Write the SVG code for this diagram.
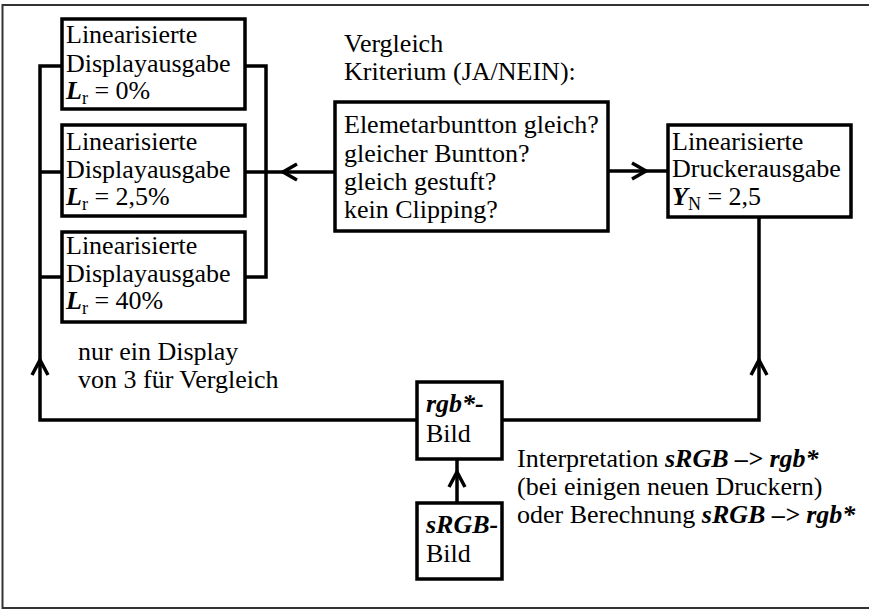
<svg xmlns="http://www.w3.org/2000/svg" width="869" height="610" viewBox="0 0 869 610">
<style>
text{font-family:'Liberation Serif','Times New Roman',Times,'DejaVu Serif',serif;font-size:26px;fill:#000}
.bi{font-weight:bold;font-style:italic}
.box{fill:#fff;stroke:#000;stroke-width:3.5}
.ln{fill:none;stroke:#000;stroke-width:3.5}
.ah{fill:none;stroke:#000;stroke-width:3.5;stroke-linecap:butt;stroke-linejoin:miter}
</style>
<rect x="2.5" y="5" width="880" height="603" fill="#fff" stroke="#333" stroke-width="2"/>
<g id="connectors">
<polyline class="ln" points="62,66 40,66 40,420 417,420"/>
<line class="ln" x1="40" y1="172" x2="62" y2="172"/>
<line class="ln" x1="40" y1="277" x2="62" y2="277"/>
<polyline class="ln" points="245,66 266,66 266,277 245,277"/>
<line class="ln" x1="245" y1="172" x2="335" y2="172"/>
<polyline class="ah" points="297,164 283,172 297,180"/>
<line class="ln" x1="608" y1="171" x2="668" y2="171"/>
<polyline class="ah" points="632,163 646,171 632,179"/>
<polyline class="ln" points="502,420 759,420 759,217"/>
<polyline class="ah" points="751,375 759,360 767,375"/>
<polyline class="ah" points="32,375 40,360 48,375"/>
<line class="ln" x1="457" y1="503" x2="457" y2="459"/>
<polyline class="ah" points="449,487 457,472 465,487"/>
</g>
<g id="disp0">
<rect class="box" x="62" y="19" width="183" height="90"/>
<text x="66" y="43" font-family="Liberation Serif, serif">Linearisierte</text>
<text x="66" y="72">Displayausgabe</text>
<text x="66" y="99"><tspan class="bi">L</tspan><tspan font-size="18" dy="5">r</tspan><tspan dy="-5"> = 0%</tspan></text>
</g>
<g id="disp25">
<rect class="box" x="62" y="125" width="183" height="91"/>
<text x="66" y="150">Linearisierte</text>
<text x="66" y="178">Displayausgabe</text>
<text x="66" y="205"><tspan class="bi">L</tspan><tspan font-size="18" dy="5">r</tspan><tspan dy="-5"> = 2,5%</tspan></text>
</g>
<g id="disp40">
<rect class="box" x="62" y="232" width="183" height="90"/>
<text x="66" y="254">Linearisierte</text>
<text x="66" y="282">Displayausgabe</text>
<text x="66" y="309"><tspan class="bi">L</tspan><tspan font-size="18" dy="5">r</tspan><tspan dy="-5"> = 40%</tspan></text>
</g>
<g id="criteria-label">
<text x="344" y="52">Vergleich</text>
<text x="344" y="80">Kriterium (JA/NEIN):</text>
</g>
<g id="criteria">
<rect class="box" x="335" y="102" width="273" height="129"/>
<text x="344" y="133">Elemetarbuntton gleich?</text>
<text x="344" y="162">gleicher Buntton?</text>
<text x="344" y="190">gleich gestuft?</text>
<text x="344" y="218">kein Clipping?</text>
</g>
<g id="printer">
<rect class="box" x="668" y="125" width="183" height="92"/>
<text x="672" y="150">Linearisierte</text>
<text x="672" y="177">Druckerausgabe</text>
<text x="672" y="205"><tspan class="bi">Y</tspan><tspan font-size="18" dy="5">N</tspan><tspan dy="-5"> = 2,5</tspan></text>
</g>
<g id="note">
<text x="78" y="360">nur ein Display</text>
<text x="78" y="388">von 3 für Vergleich</text>
</g>
<g id="rgb">
<rect class="box" x="417" y="382" width="85" height="77"/>
<text x="426" y="412" class="bi">rgb*-</text>
<text x="426" y="442">Bild</text>
</g>
<g id="srgb">
<rect class="box" x="417" y="503" width="85" height="76"/>
<text x="426" y="533" class="bi">sRGB-</text>
<text x="426" y="562">Bild</text>
</g>
<g id="interp">
<text x="517" y="467">Interpretation <tspan class="bi">sRGB –&gt; rgb*</tspan></text>
<text x="517" y="495">(bei einigen neuen Druckern)</text>
<text x="517" y="523">oder Berechnung <tspan class="bi">sRGB –&gt; rgb*</tspan></text>
</g>
</svg>
